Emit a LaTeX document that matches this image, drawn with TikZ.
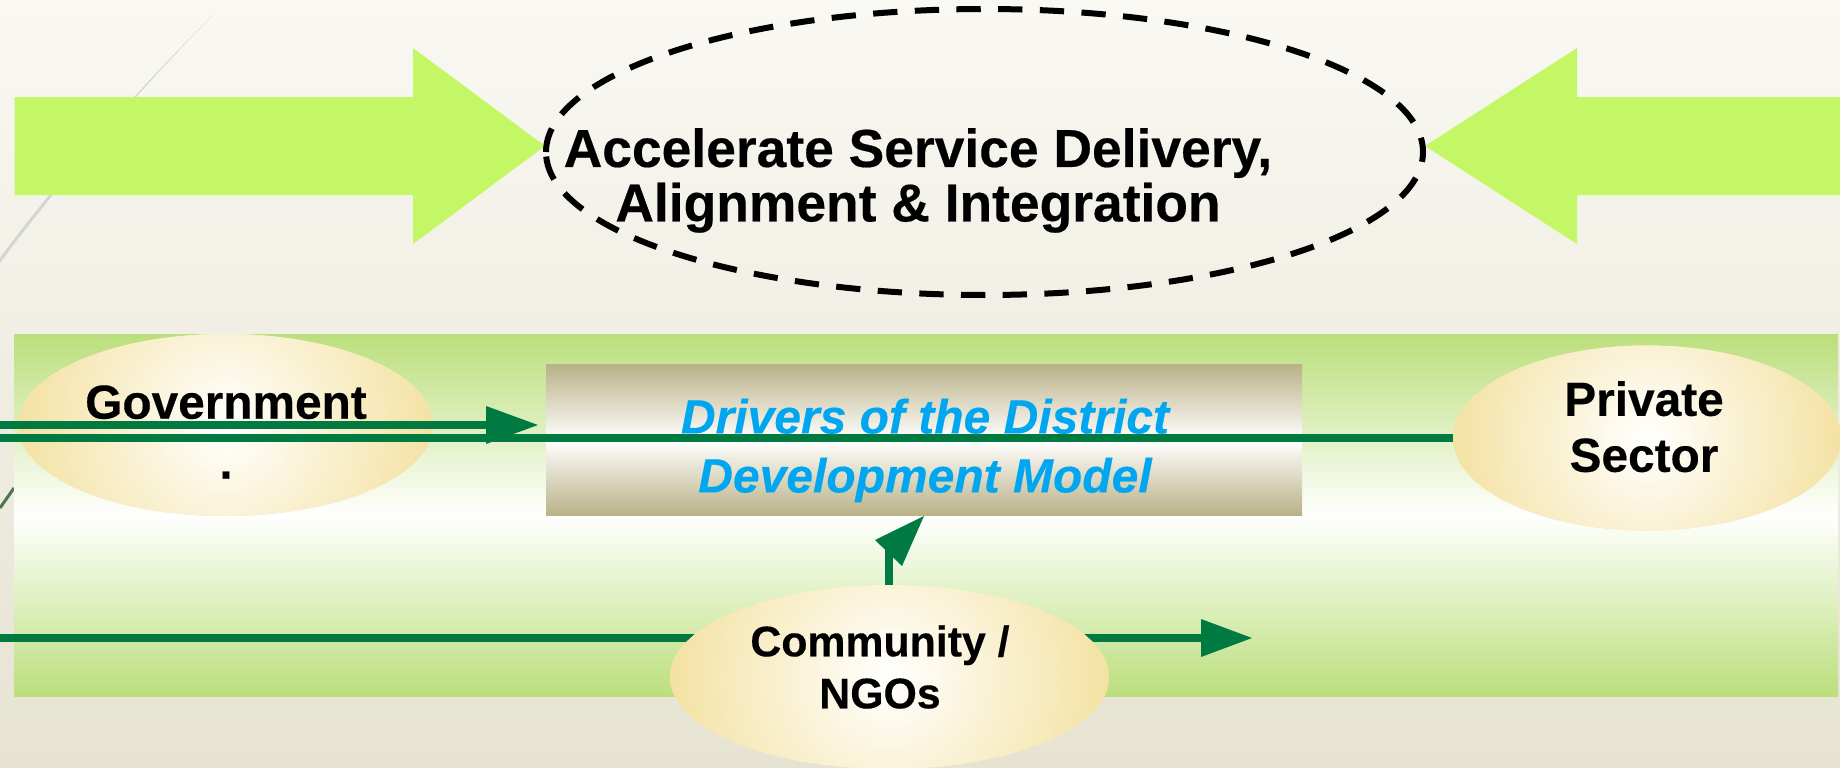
\documentclass[tikz,border=0pt]{standalone}
\usepackage{fontspec}
\setmainfont[BoldFeatures={FakeBold=0.35},BoldItalicFeatures={FakeBold=0.35}]{Liberation Sans}
\usetikzlibrary{shapes.geometric,arrows.meta}
\definecolor{bgtop}{HTML}{F9F8F3}
\definecolor{bgbot}{HTML}{E6E3D2}
\definecolor{lime}{HTML}{C4F766}
\definecolor{panelg}{HTML}{BBDF7C}
\definecolor{tan}{HTML}{B9B186}
\definecolor{sand}{HTML}{F4E2A3}
\definecolor{dgreen}{HTML}{007A40}
\definecolor{skyb}{HTML}{00A6F0}
\pgfdeclareradialshading{ellshade}{\pgfpointorigin}{color(0bp)=(white); color(25bp)=(sand); color(50bp)=(sand)}
\tikzset{
  x=1pt,y=-1pt,
  ell/.style={ellipse,fill=sand!70!white,draw=none,inner sep=0pt,outer sep=0pt,
    minimum width=2*#1,
    path picture={\fill[shading=ellshade] (path picture bounding box.center) circle [radius=#1];}},
  conn/.style={draw=dgreen,line width=8pt},
  head/.style={fill=dgreen,draw=none},
  limearrow/.style={fill=lime,draw=none},
  big/.style={font=\bfseries\fontsize{47.8}{60}\selectfont,align=center,inner sep=0pt},
}
\begin{document}
\begin{tikzpicture}
\useasboundingbox (0,0) rectangle (1840,768);
\fill[top color=bgtop,bottom color=bgbot] (0,0) rectangle (1840,768);
\fill[color=black!17] (213,15) .. controls (132,97) and (50,195) .. (0,263) -- (0,258) .. controls (50,190) and (132,95) .. cycle;
\draw[color=black!60!green!40!gray,line width=3pt] (0,508) -- (14,488);
\fill[limearrow] (14.5,97) -- (413,97) -- (413,48) -- (545,146) -- (413,244) -- (413,195) -- (14.5,195) -- cycle;
\fill[limearrow] (1840,97) -- (1577,97) -- (1577,48) -- (1425,146) -- (1577,244) -- (1577,195) -- (1840,195) -- cycle;
\node[ellipse,inner sep=0pt,outer sep=0pt,minimum width=877pt,minimum height=286pt] (goal) at (984.5,152) {};
\draw[black,line width=6pt,dash pattern=on 24.3pt off 17.4pt] (goal.west) arc [start angle=180,end angle=540,x radius=438.5,y radius=143];
\node[font=\bfseries\fontsize{53.4}{54.5}\selectfont,align=center,inner sep=0pt] (goaltext) at (918,180.5) {Accelerate Service Delivery,\\Alignment \& Integration};
\fill[top color=panelg,bottom color=white] (14,334) rectangle (1838,516);
\fill[bottom color=panelg,top color=white] (14,515.5) rectangle (1838,696);
\fill[top color=tan,bottom color=white] (546,364) rectangle (1302,440);
\fill[bottom color=tan,top color=white] (546,440) rectangle (1302,515.5);
\node[inner sep=0pt,font=\bfseries\itshape\fontsize{48}{59}\selectfont,text=skyb,align=center] (drivers) at (925,450.5) {Drivers of the District\\Development Model};
\node[ell=207.5pt,minimum height=182pt] (gov) at (225.5,425) {};
\begin{scope}
\clip (0,0) rectangle (1840,768);
\node[ell=194pt,minimum height=185pt] (priv) at (1647,438) {};
\end{scope}
\coordinate (lefta) at (0,425);
\coordinate (leftb) at (0,438);
\coordinate (leftc) at (0,638);
\coordinate (heada) at (486,425);
\coordinate (headc) at (1201,638);
\draw[conn] (lefta) -- (heada);
\fill[head] (486,406) -- (538,425) -- (486,444) -- cycle;
\draw[conn] (leftb) -- (priv.west |- leftb);
\draw[conn] (leftc) -- (headc);
\fill[head] (1201,619) -- (1252,638) -- (1201,657) -- cycle;
\node[big] (govt) at (226,432) {Government\\.};
\node[big,font=\bfseries\fontsize{47.8}{56}\selectfont] (privt) at (1644,426.7) {Private\\Sector};
\node[ell=219.5pt,minimum height=184pt] (comm) at (889.5,677) {};
\node[font=\bfseries\fontsize{42.8}{52}\selectfont,align=center,inner sep=0pt] (commt) at (880,667) {Community /\\NGOs};
\draw[dgreen,line width=8pt] (comm.north -| 889,585) -- (889,548);
\fill[head] (924,516) -- (875,540) -- (902,566) -- cycle;
\end{tikzpicture}
\end{document}
